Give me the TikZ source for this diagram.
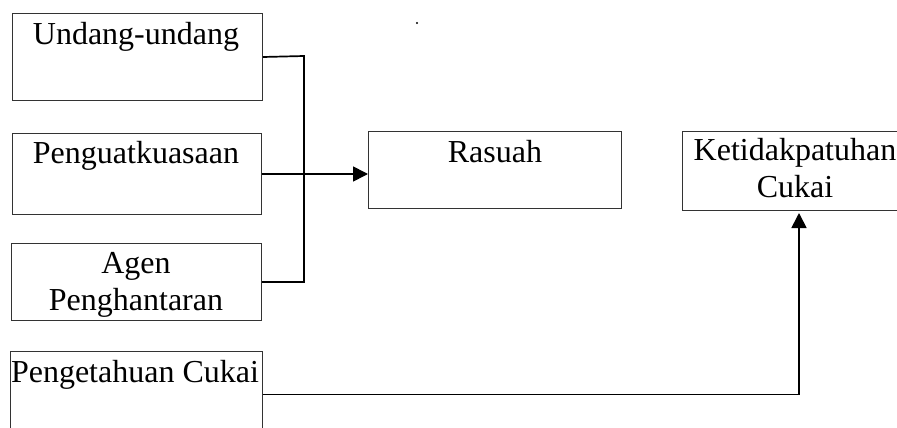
\documentclass[tikz,border=0pt]{standalone}
\usepackage{fontspec}
\setmainfont{Liberation Serif}
\usetikzlibrary{arrows.meta}
\begin{document}
\begin{tikzpicture}[x=1pt,y=-1pt,
  box/.style={draw=black!80, line width=1pt, rectangle, inner sep=0pt, anchor=north west},
  lbl/.style={font=\fontsize{32}{37}\selectfont, inner sep=0pt, anchor=base, align=center},
  conn/.style={draw=black, line width=1.7pt},
  arr/.style={conn, -{Triangle[length=15pt,width=15pt]}}]
\clip (0,0) rectangle (897,428);
\fill[white] (0,0) rectangle (897,428);
% boxes
\node[box, minimum width=250pt, minimum height=87pt] (uu) at (12,13) {};
\node[box, minimum width=249pt, minimum height=81pt] (pg) at (12,133) {};
\node[box, minimum width=250pt, minimum height=77pt] (ag) at (11,243) {};
\node[box, minimum width=252pt, minimum height=86pt] (pc) at (10,351) {};
\node[box, minimum width=253pt, minimum height=77pt] (ra) at (368,131) {};
\node[box, minimum width=226pt, minimum height=79pt] (kc) at (682,131) {};
% labels
\node[lbl] (tuu) at (136,45) {Undang-undang};
\node[lbl] (tpg) at (136,163) {Penguatkuasaan};
\node[lbl] (tag) at (136,310) {Agen\\Penghantaran};
\node[lbl] (tpc) at (135,382) {Pengetahuan Cukai};
\node[lbl] (tra) at (495,162) {Rasuah};
\node[lbl] (tkc) at (795,197) {Ketidakpatuhan\\Cukai};
% stray dot
\fill (417,23) circle (1.2pt);
% connectors
\coordinate (j1) at (304,56);
\draw[conn] (uu.east) -- (j1) |- (ag.east);
\draw[arr] (pg.east) -- (pg.east -| ra.west);
\coordinate (kin) at (799,213);
\draw[arr] (pc.east) -| (kin);
\end{tikzpicture}
\end{document}
